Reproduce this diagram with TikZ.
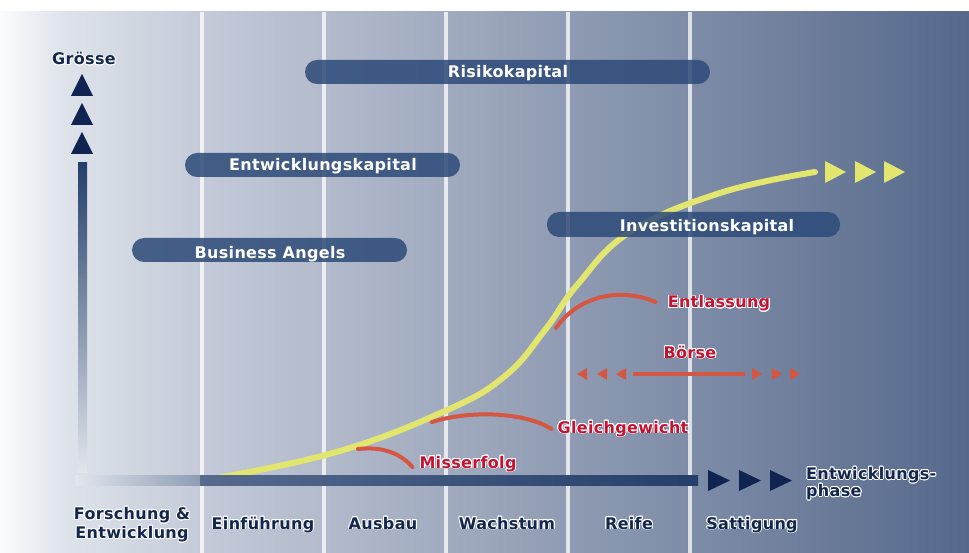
\documentclass[tikz,border=0pt]{standalone}
\usepackage{fontspec}
\usepackage{tikz}
\usepackage{contour}
\newfontfamily\beschriftfont[LetterSpace=2.0]{DejaVu Sans}
\newcommand{\beschrift}{\beschriftfont\bfseries\fontsize{16}{19}\selectfont}
\contourlength{0.9pt}

\definecolor{hgWeiss}{HTML}{FBFCFD}
\definecolor{hgHell}{HTML}{DFE4EB}
\definecolor{hgMitte}{HTML}{C4CAD8}
\definecolor{hgDunkel}{HTML}{56698B}
\definecolor{balkenblau}{HTML}{2C4A78}
\definecolor{achseDunkel}{HTML}{233F6A}
\definecolor{achseMitte}{HTML}{566A8E}
\definecolor{achseHell}{HTML}{E2E6EC}
\definecolor{pfeilblau}{HTML}{0F2450}
\definecolor{schrift}{HTML}{13264D}
\definecolor{gelblinie}{RGB}{226,230,110}
\definecolor{rotlinie}{RGB}{214,86,66}
\definecolor{rotschrift}{RGB}{196,18,48}

\tikzset{
  balken/.style={fill=balkenblau, fill opacity=.85, rounded corners=12pt},
  balkentext/.style={text=white, font=\beschrift, inner sep=0pt, text height=12pt, text depth=4pt},
  achsentext/.style={text=schrift, font=\beschrift, inner sep=0pt, text height=12pt, text depth=4pt},
  rottext/.style={text=rotschrift, font=\beschrift, inner sep=0pt, text height=12pt, text depth=4pt},
  rot/.style={draw=rotlinie, line width=4pt, line cap=round},
  gelb/.style={draw=gelblinie, line width=6pt, line cap=round},
  spalte/.style={draw=white, draw opacity=.75, line width=3.5pt}
}

\begin{document}
\begin{tikzpicture}[x=1pt, y=-1pt]
    \useasboundingbox (0,0) rectangle (969,553);
    % Hintergrund.
    \fill[white] (0,0) rectangle (969,553);
    \shade[left color=hgWeiss, right color=hgHell] (0,12) rectangle (60,553);
    \shade[left color=hgHell, right color=hgMitte] (60,12) rectangle (200,553);
    \shade[left color=hgMitte, right color=hgDunkel] (200,12) rectangle (969,553);

    % Spalten.
    \foreach \x in {202,324,446,568,690}
    {
        \draw[spalte] (\x,12) -- (\x,553);
    }

    % Wachstumskurve.
    \draw[gelb] plot[smooth, tension=.7] coordinates {(200,481) (333,453) (445,411)
        (505,376) (545,330) (578,284) (630,232) (720,193) (815,172)};
    \coordinate (m0) at (358,449);
    \coordinate (g0) at (432,422);
    \coordinate (e0) at (556,328);
    \foreach \x in {825,855,884}
    {
        \fill[gelblinie] (\x,161) -- (\x+21,172) -- (\x,183) -- cycle;
    }

    % Balken.
    \fill[balken] (305,60) rectangle (710,84);
    \fill[balken] (185,153) rectangle (460,177);
    \fill[balken] (132,238) rectangle (407,262);
    \fill[balken] (547,212) rectangle (840,237);
    \node[balkentext] (risiko)  at (508,74)  {Risikokapital};
    \node[balkentext] (entwkap) at (323,167) {Entwicklungskapital};
    \node[balkentext] (angels)  at (270,255) {Business Angels};
    \node[balkentext] (invest)  at (707,228) {Investitionskapital};

    % Achsen.
    \shade[top color=achseDunkel, bottom color=achseHell] (78,163) rectangle (87,472);
    \shade[left color=achseHell, right color=achseMitte!60!achseHell] (75,475) rectangle (200,485);
    \shade[left color=achseMitte, right color=achseDunkel] (200,475) rectangle (698,485);
    \foreach \y in {74,103,132}
    {
        \fill[pfeilblau] (71,\y+22) -- (82,\y) -- (93,\y+22) -- cycle;
    }
    \foreach \x in {708,739,770}
    {
        \fill[pfeilblau] (\x,470) -- (\x+22,480.5) -- (\x,491) -- cycle;
    }

    % Ausgaenge.
    \node[rottext] (miss)    at (468,464) {\contour{white}{Misserfolg}};
    \node[rottext] (gleich)  at (623,429) {\contour{white}{Gleichgewicht}};
    \node[rottext] (entlass) at (719,304) {\contour{white}{Entlassung}};
    \node[rottext] (boerse)  at (690,354) {\contour{white}{Börse}};
    \draw[rot] (m0) .. controls (385,446) and (402,455) .. ([xshift=-7pt,yshift=-3pt]miss.west);
    \draw[rot] (g0) .. controls (470,410) and (525,412) .. ([xshift=-6pt]gleich.west);
    \draw[rot] (e0) .. controls (575,300) and (615,285) .. ([xshift=-12pt,yshift=2pt]entlass.west);
    \coordinate (bl) at (633,374);
    \coordinate (br) at (745,374);
    \draw[rot, line cap=butt] (bl) -- (br);
    \foreach \x in {577,597,616}
    {
        \fill[rotlinie] (\x+10,368) -- (\x,374) -- (\x+10,380) -- cycle;
    }
    \foreach \x in {752,772,790}
    {
        \fill[rotlinie] (\x,368) -- (\x+10,374) -- (\x,380) -- cycle;
    }

    % Beschriftung.
    \node[achsentext] (groesse) at (84,61) {\contour{white}{Grösse}};
    \node[achsentext, align=center, text height=, text depth=] (forschung) at (132,525)
        {\contour{white}{Forschung \&}\\\contour{white}{Entwicklung}};
    \node[achsentext] (einf) at (263,525) {\contour{white}{Einführung}};
    \node[achsentext] (ausb) at (383,525) {\contour{white}{Ausbau}};
    \node[achsentext] (wachs) at (507,525) {\contour{white}{Wachstum}};
    \node[achsentext] (reife) at (629,525) {\contour{white}{Reife}};
    \node[achsentext] (saett) at (752,525) {\contour{white}{Sattigung}};
    \node[achsentext, align=left, anchor=north west, text height=, text depth=] (phase) at (806,467)
        {\contour{white}{Entwicklungs-}\\[-2pt]\contour{white}{phase}};
\end{tikzpicture}
\end{document}
